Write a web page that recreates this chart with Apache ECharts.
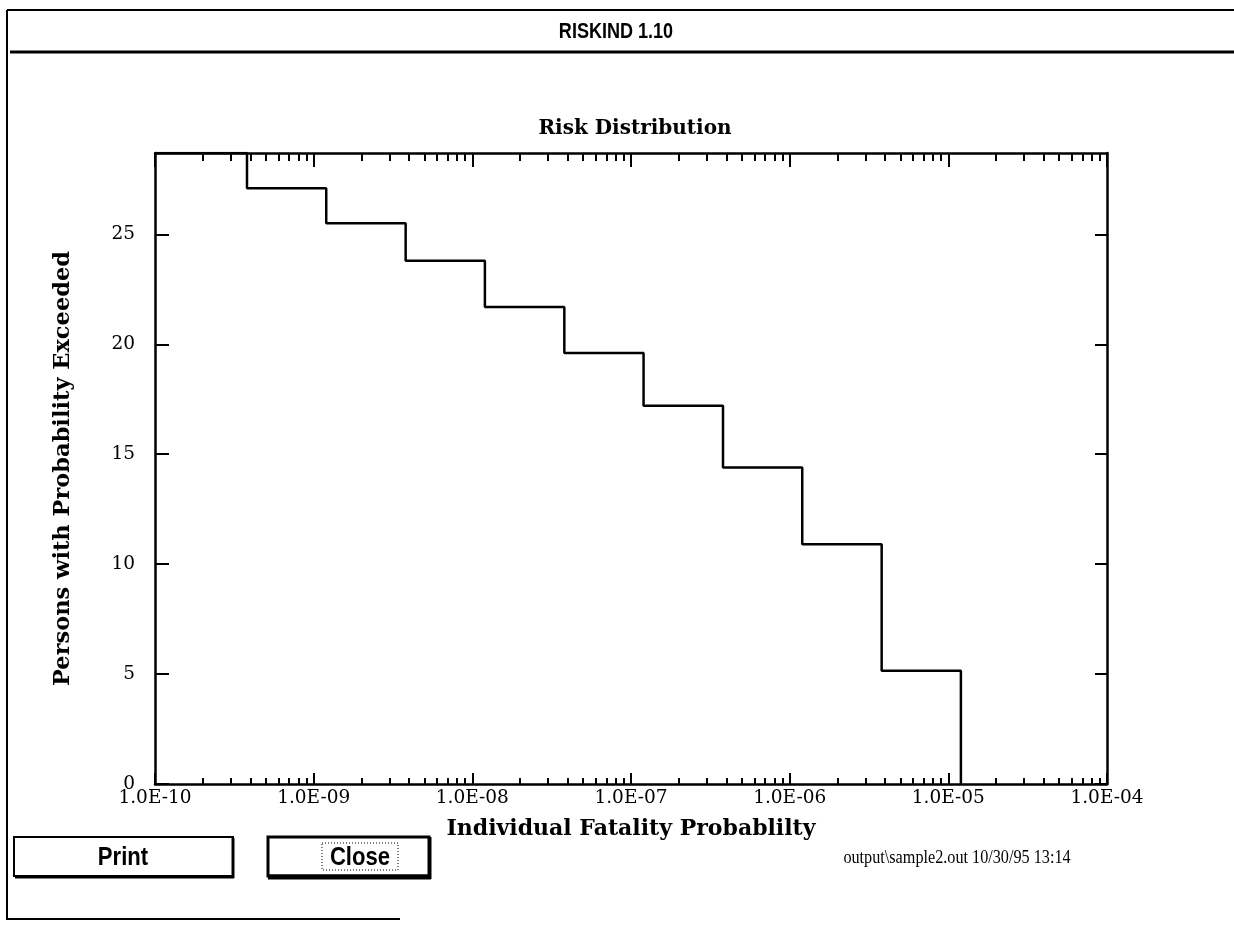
<!DOCTYPE html>
<html>
<head>
<meta charset="utf-8">
<title>RISKIND 1.10 - Risk Distribution</title>
<script src="https://cdn.jsdelivr.net/npm/echarts@6/dist/echarts.min.js"></script>
<style>
  html, body { margin: 0; padding: 0; background: #fff; }
  #chart { width: 1234px; height: 925px; }
</style>
</head>
<body>
<div id="chart"></div>
<script>
// Step thresholds of individual fatality probability (x) and the number of
// persons whose probability exceeds each threshold (y).
const probabilityThresholds = [1.0e-10, 3.8e-10, 1.2e-9, 3.8e-9, 1.2e-8, 3.8e-8, 1.2e-7, 3.8e-7, 1.2e-6, 3.8e-6, 1.2e-5];
const personsExceeding      = [28.7, 27.1, 25.5, 23.8, 21.7, 19.6, 17.2, 14.4, 10.9, 5.15, 0];

// Axis tick positions
const decadeTicks = [1e-10, 1e-9, 1e-8, 1e-7, 1e-6, 1e-5, 1e-4];
const minorMultipliers = [2, 3, 4, 5, 6, 7, 8, 9];
const yTicks = [0, 5, 10, 15, 20, 25];
const yMax = 28.7;

const minorTicks = [];
decadeTicks.slice(0, -1).forEach(d => minorMultipliers.forEach(m => minorTicks.push(d * m)));

function fmtExp(v) {
  const e = Math.round(Math.log10(v));
  return '1.0E' + (e < 0 ? '-' : '+') + String(Math.abs(e)).padStart(2, '0');
}

const serif = '"DejaVu Serif", "Liberation Serif", serif';
const narrowSans = '"Liberation Sans Narrow", "Liberation Sans", sans-serif';
const black = '#000';

function xAxisDef(position, ticks, tickLen, withLine, withLabels) {
  return {
    type: 'log', logBase: 10, min: 1e-10, max: 1e-4, position: position,
    axisLine: { show: withLine, onZero: false, lineStyle: { color: black, width: 2.5 } },
    axisTick: { show: true, inside: true, length: tickLen, customValues: ticks,
                lineStyle: { color: black, width: 2 } },
    axisLabel: withLabels ? {
      show: true, customValues: decadeTicks, formatter: fmtExp, margin: 5,
      color: black, fontFamily: serif, fontSize: 18.5
    } : { show: false },
    splitLine: { show: false },
    minorTick: { show: false },
    name: withLabels ? 'Individual Fatality Probablilty' : '',
    nameLocation: 'middle', nameGap: 34,
    nameTextStyle: { color: black, fontFamily: serif, fontWeight: 'bold', fontSize: 22 }
  };
}

const data = probabilityThresholds.map((x, i) => [x, personsExceeding[i]]);

const chart = echarts.init(document.getElementById('chart'), null, { renderer: 'canvas' });
chart.setOption({
  backgroundColor: '#fff',
  animation: false,
  title: [
    { text: 'Risk Distribution', left: 630, textAlign: 'center', top: 114,
      textStyle: { color: black, fontFamily: serif, fontWeight: 'bold', fontSize: 20 } }
  ],
  grid: { left: 155, right: 127, top: 153, bottom: 141, containLabel: false },
  xAxis: [
    xAxisDef('bottom', decadeTicks, 11, true, true),
    xAxisDef('bottom', minorTicks, 6, false, false),
    xAxisDef('top', decadeTicks, 14, true, false),
    xAxisDef('top', minorTicks, 8, false, false)
  ],
  yAxis: [
    {
      type: 'value', min: 0, max: yMax, position: 'left',
      axisLine: { show: true, onZero: false, lineStyle: { color: black, width: 2.5 } },
      axisTick: { show: true, inside: true, length: 14, customValues: yTicks,
                  lineStyle: { color: black, width: 2 } },
      axisLabel: { show: true, customValues: yTicks, margin: 20, color: black,
                   fontFamily: serif, fontSize: 18.5 },
      splitLine: { show: false },
      name: 'Persons with Probability Exceeded', nameLocation: 'middle', nameGap: 80,
      nameTextStyle: { color: black, fontFamily: serif, fontWeight: 'bold', fontSize: 22.5 }
    },
    {
      type: 'value', min: 0, max: yMax, position: 'right',
      axisLine: { show: true, onZero: false, lineStyle: { color: black, width: 2.5 } },
      axisTick: { show: true, inside: true, length: 12, customValues: yTicks,
                  lineStyle: { color: black, width: 2 } },
      axisLabel: { show: false },
      splitLine: { show: false }
    }
  ],
  series: [{
    type: 'line', step: 'end', xAxisIndex: 0, yAxisIndex: 0,
    data: data, showSymbol: false, symbol: 'none',
    lineStyle: { color: black, width: 2.5 }, clip: true, silent: true
  }],
  graphic: [
    // window frame and header
    { type: 'line', shape: { x1: 7, y1: 10, x2: 1234, y2: 10 }, style: { stroke: black, lineWidth: 2 } },
    { type: 'line', shape: { x1: 7, y1: 10, x2: 7, y2: 920 }, style: { stroke: black, lineWidth: 2 } },
    { type: 'line', shape: { x1: 7, y1: 919, x2: 400, y2: 919 }, style: { stroke: black, lineWidth: 2 } },
    { type: 'line', shape: { x1: 10, y1: 52, x2: 1234, y2: 52 }, style: { stroke: black, lineWidth: 3 } },
    { type: 'text', x: 616, y: 32, scaleX: 0.82,
      style: { text: 'RISKIND 1.10', fill: black, align: 'center', verticalAlign: 'middle',
               font: 'bold 22px ' + narrowSans } },
    // Print button
    { type: 'rect', shape: { x: 14, y: 837, width: 219, height: 39 },
      style: { fill: '#fff', stroke: black, lineWidth: 2 } },
    { type: 'line', shape: { x1: 233, y1: 838, x2: 233, y2: 878 }, style: { stroke: black, lineWidth: 3 } },
    { type: 'line', shape: { x1: 15, y1: 877, x2: 234, y2: 877 }, style: { stroke: black, lineWidth: 3 } },
    { type: 'text', x: 123, y: 858, scaleX: 0.85,
      style: { text: 'Print', fill: black, align: 'center', verticalAlign: 'middle',
               font: 'bold 26px ' + narrowSans } },
    // Close button (default, with focus rectangle)
    { type: 'rect', shape: { x: 268, y: 837, width: 161, height: 39 },
      style: { fill: '#fff', stroke: black, lineWidth: 3 } },
    { type: 'line', shape: { x1: 268, y1: 877, x2: 431, y2: 877 }, style: { stroke: black, lineWidth: 5 } },
    { type: 'line', shape: { x1: 430, y1: 837, x2: 430, y2: 879 }, style: { stroke: black, lineWidth: 3 } },
    { type: 'rect', shape: { x: 322, y: 843, width: 76, height: 27 },
      style: { fill: 'none', stroke: black, lineWidth: 1, lineDash: [1, 2] } },
    { type: 'text', x: 360, y: 858, scaleX: 0.85,
      style: { text: 'Close', fill: black, align: 'center', verticalAlign: 'middle',
               font: 'bold 26px ' + narrowSans } },
    // file stamp
    { type: 'text', x: 957, y: 858, scaleX: 0.9,
      style: { text: 'output\\sample2.out 10/30/95 13:14', fill: black, align: 'center', verticalAlign: 'middle',
               font: '18px "Liberation Serif", serif' } }
  ]
});
</script>
</body>
</html>
